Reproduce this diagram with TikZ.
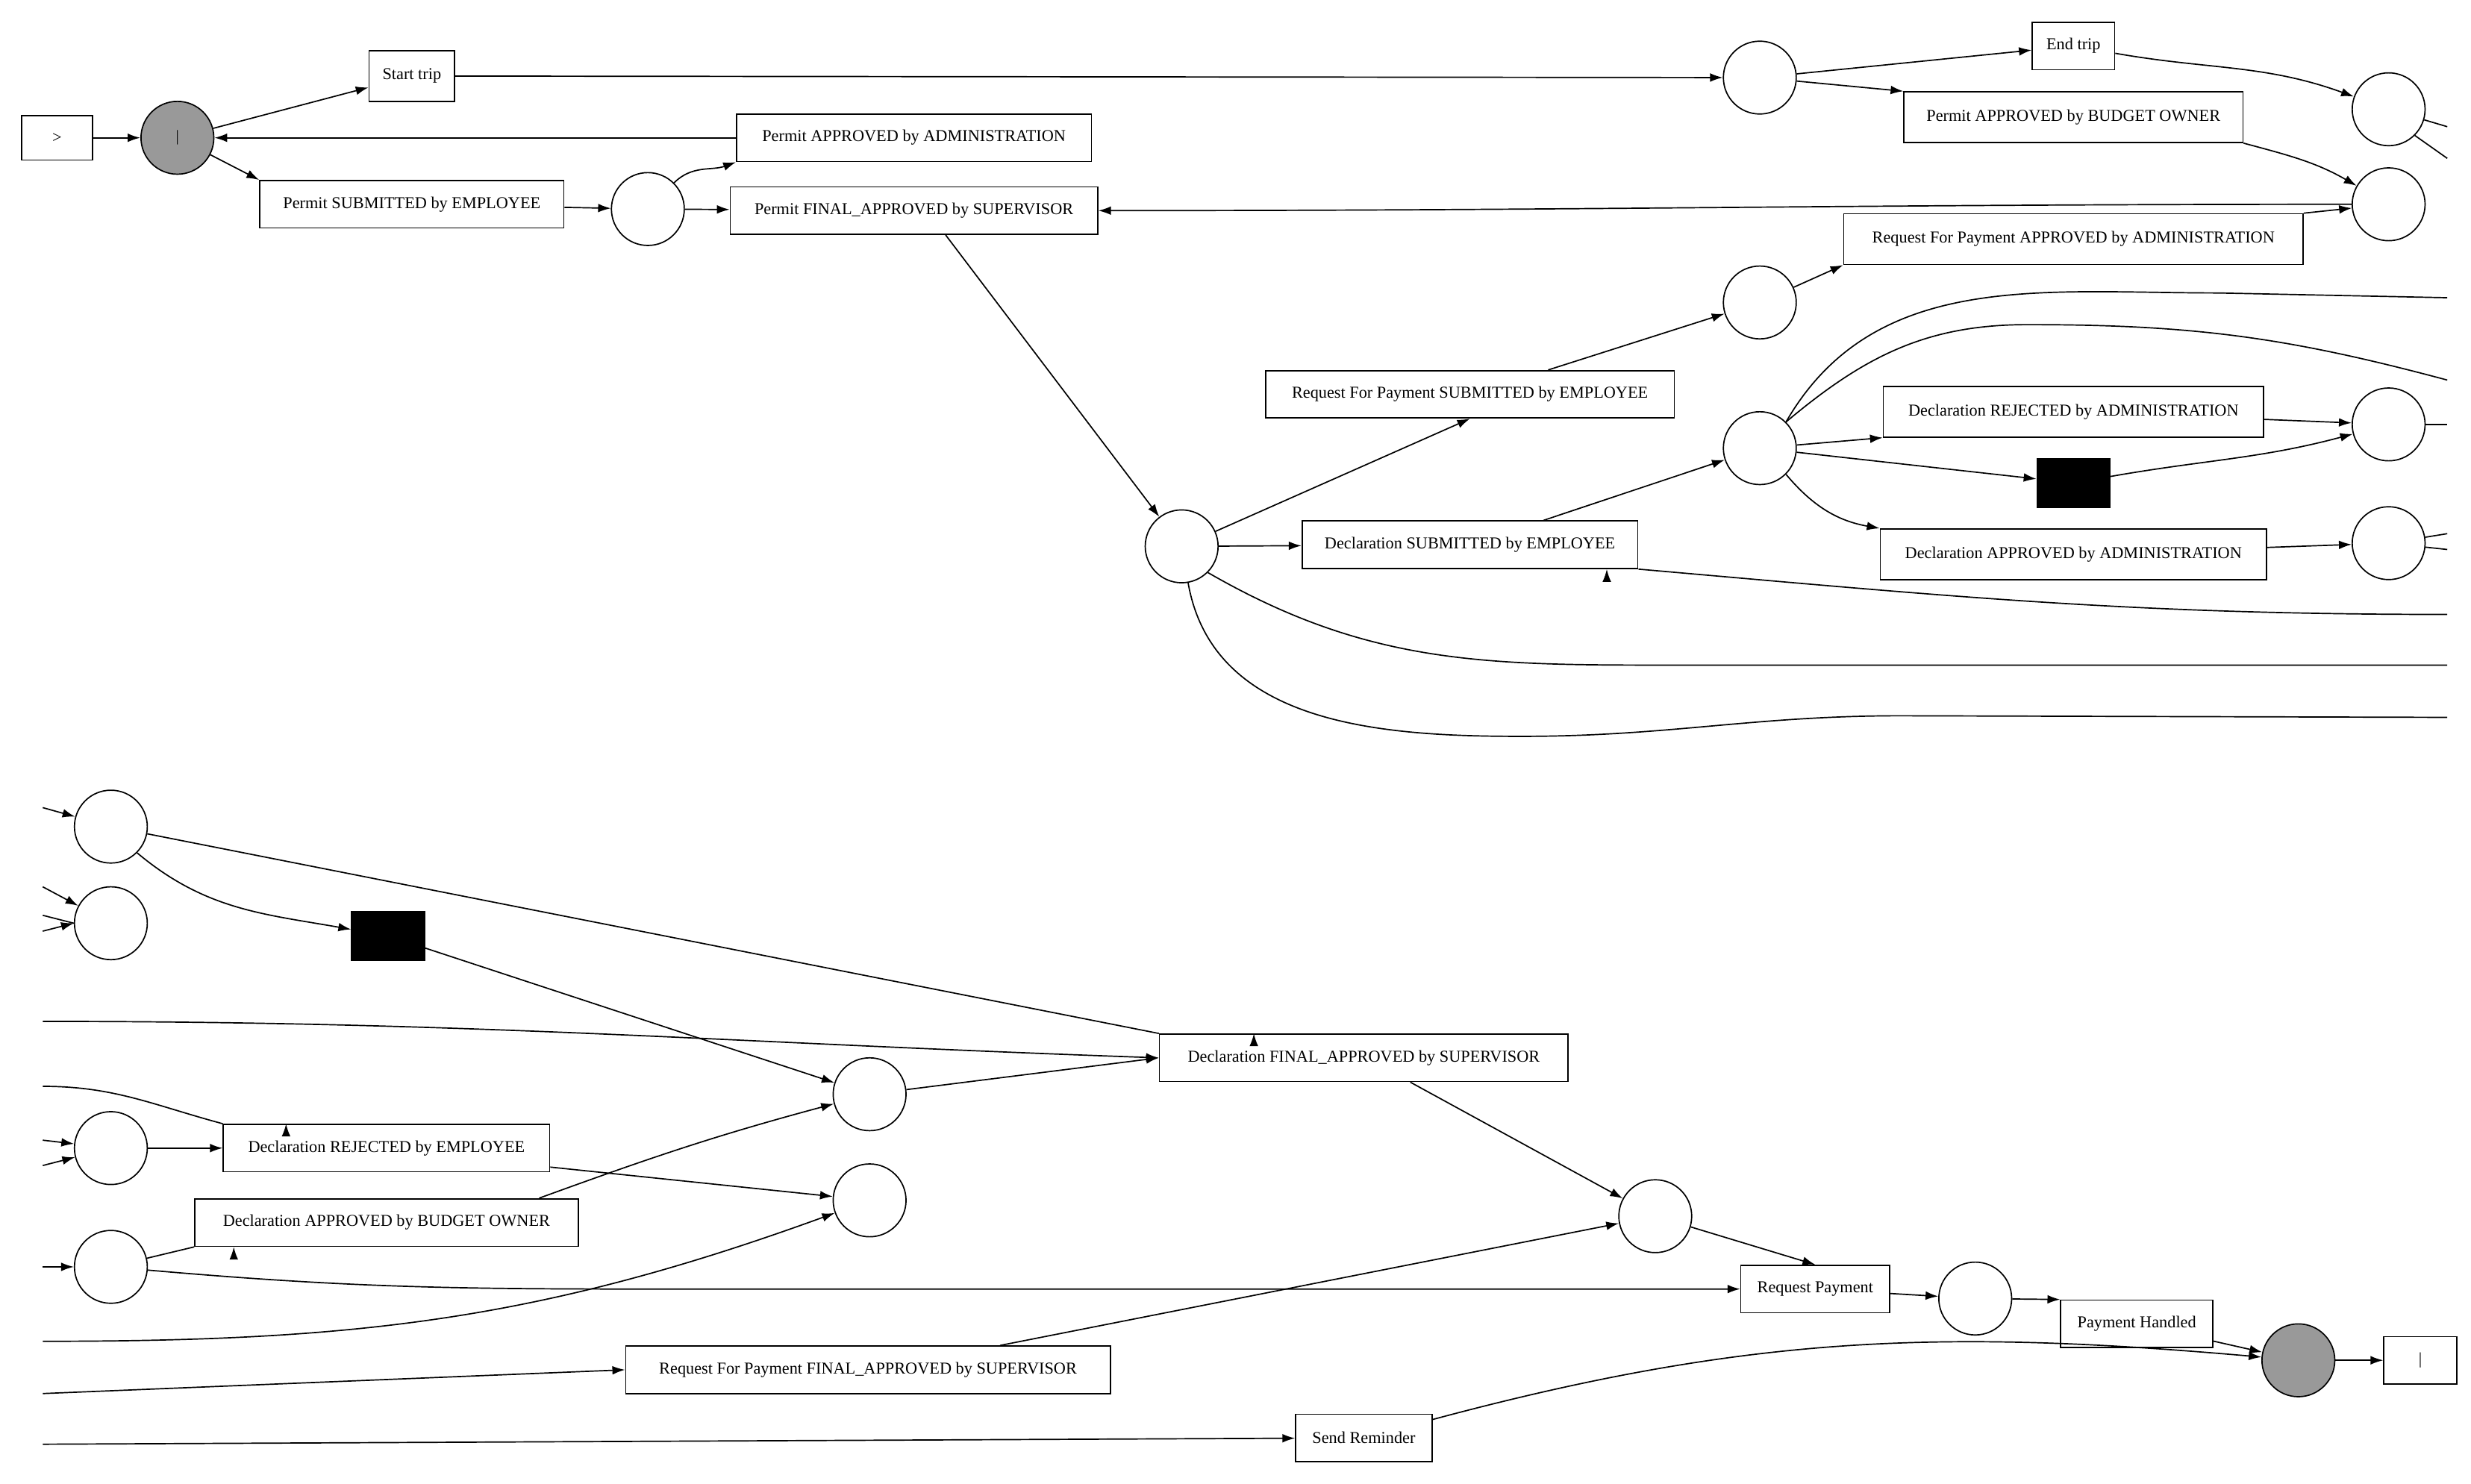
\documentclass[tikz,border=0pt]{standalone}
\usepackage{fontspec}
\setmainfont{Liberation Serif}
\usetikzlibrary{arrows.meta}
\begin{document}
\begin{tikzpicture}[x=1pt,y=-1pt,
  every path/.style={line width=0.8pt},
  tr/.style={draw,rectangle,inner sep=2pt,minimum height=30pt,font=\fontsize{10.5}{12}\selectfont},
  pl/.style={draw,circle,minimum size=46pt,inner sep=0pt},
  gp/.style={pl,fill=black!40},
  tau/.style={draw,fill=black,minimum width=46pt,minimum height=31pt,inner sep=0pt},
  a/.style={-{Latex[length=8pt,width=5.5pt]}}]
\useasboundingbox (0,0) rectangle (1560,937);
% top part
\node[tr,minimum width=45pt,minimum height=28pt] (src) at (36,87) {>};
\node[gp] (p0) at (112,87) {|};
\node[tr,minimum width=54pt,minimum height=32pt] (st) at (260,48) {Start trip};
\node[tr,minimum width=224pt] (paa) at (577,87) {Permit APPROVED by ADMINISTRATION};
\node[tr,minimum width=192pt] (pse) at (260,129) {Permit SUBMITTED by EMPLOYEE};
\node[pl] (p1) at (409,132) {};
\node[tr,minimum width=232pt] (pfa) at (577,133) {Permit FINAL\_APPROVED by SUPERVISOR};
\node[pl] (p2) at (1111,49) {};
\node[tr,minimum width=52pt] (et) at (1309,29) {End trip};
\node[tr,minimum width=214pt,minimum height=32pt] (pabo) at (1309,74) {Permit APPROVED by BUDGET OWNER};
\node[pl] (p3) at (1508,69) {};
\node[pl] (p4) at (1508,129) {};
\node[tr,minimum width=290pt,minimum height=32pt] (rpaa) at (1309,151) {Request For Payment APPROVED by ADMINISTRATION};
\node[pl] (p5) at (1111,191) {};
\node[tr,minimum width=258pt] (rpse) at (928,249) {Request For Payment SUBMITTED by EMPLOYEE};
\node[pl] (p6) at (1111,283) {};
\node[tr,minimum width=240pt,minimum height=32pt] (dra) at (1309,260) {Declaration REJECTED by ADMINISTRATION};
\node[tau] (t1) at (1309,305) {};
\node[tr,minimum width=244pt,minimum height=32pt] (daa) at (1309,350) {Declaration APPROVED by ADMINISTRATION};
\node[pl] (p7) at (1508,268) {};
\node[pl] (p8) at (1508,343) {};
\node[pl] (p9) at (746,345) {};
\node[tr,minimum width=212pt] (dse) at (928,344) {Declaration SUBMITTED by EMPLOYEE};
% right free ends
\coordinate (r1) at (1545,80);
\coordinate (r2) at (1545,100);
\coordinate (r3) at (1545,268);
\coordinate (r4) at (1545,337);
\coordinate (r5) at (1545,347);
\coordinate (r6) at (1545,188);
\coordinate (r7) at (1545,240);
\coordinate (r8) at (1545,388);
\coordinate (r9) at (1545,420);
\coordinate (r10) at (1545,453);
% bottom part
\node[pl] (q1) at (70,522) {};
\node[pl] (q2) at (70,583) {};
\node[tau] (t2) at (245,591) {};
\node[tr,minimum width=258pt] (dfa) at (861,668) {Declaration FINAL\_APPROVED by SUPERVISOR};
\node[pl] (q3) at (549,691) {};
\node[pl] (q4) at (70,725) {};
\node[tr,minimum width=206pt] (dre) at (244,725) {Declaration REJECTED by EMPLOYEE};
\node[pl] (q5) at (549,758) {};
\node[tr,minimum width=242pt] (dabo) at (244,772) {Declaration APPROVED by BUDGET OWNER};
\node[pl] (q6) at (70,800) {};
\node[tr,minimum width=306pt] (rpfa) at (548,865) {Request For Payment FINAL\_APPROVED by SUPERVISOR};
\node[pl] (q7) at (1045,768) {};
\node[tr,minimum width=94pt] (rp) at (1146,814) {Request Payment};
\node[pl] (q8) at (1247,820) {};
\node[tr,minimum width=96pt] (ph) at (1349,836) {Payment Handled};
\node[gp] (snk) at (1451,859) {};
\node[tr,minimum width=46pt] (end) at (1528,859) {|};
\node[tr,minimum width=86pt] (sr) at (861,908) {Send Reminder};
% left free ends
\coordinate (l1) at (27,510);
\coordinate (l2) at (27,560);
\coordinate (l3) at (27,578);
\coordinate (l4) at (27,588);
\coordinate (l5) at (27,645);
\coordinate (l6) at (27,686);
\coordinate (l7) at (27,720);
\coordinate (l8) at (27,736);
\coordinate (l9) at (27,800);
\coordinate (l10) at (27,847);
\coordinate (l11) at (27,880);
\coordinate (l12) at (27,912);
% top edges
\draw[a] (src) -- (p0);
\draw[a] (p0) -- (st);
\draw[a] (paa) -- (p0);
\draw[a] (p0) -- (pse.north west);
\draw[a] (pse) -- (p1);
\draw[a] (p1.north east) to[out=45,in=200] (paa.south west);
\draw[a] (p1) -- (pfa);
\draw[a] (st) -- (p2);
\draw[a] (p2) -- (et);
\draw[a] (p2) -- (pabo.north west);
\draw[a] (et) to[out=-10,in=160] (p3);
\draw[a] (pabo.south east) to[out=-15,in=150] (p4);
\draw[a] (rpaa.north east) -- (p4);
\draw[a] (p4) to[out=180,in=0] (pfa.east);
\draw[a] (pfa.south) ++(20,0) -- (p9);
\draw[a] (p9) -- (rpse.south);
\draw[a] (rpse.north east) ++(-80,0) -- (p5);
\draw[a] (p5) -- (rpaa.south west);
\draw[a] (p9) -- (dse);
\draw[a] (dse.north east) ++(-60,0) -- (p6);
\draw[a] (p6) -- (dra.south west);
\draw[a] (p6) -- (t1);
\draw[a] (p6.south east) to[out=-50,in=170] (daa.north west);
\draw[a] (dra) -- (p7);
\draw[a] (t1) to[out=10,in=195] (p7);
\draw[a] (daa) -- (p8);
\draw (p3) -- (r1);
\draw (p3.south east) -- (r2);
\draw (p7) -- (r3);
\draw (p8) -- (r4);
\draw (p8) -- (r5);
\draw (p6.north east) to[out=60,in=180] (1400,185) -- (r6);
\draw (p6.north east) to[out=40,in=180] (1280,205) to[out=0,in=165] (r7);
\draw[a] (r8) to[out=180,in=-5] (dse.south east) ++(-20,0);
\draw (p9.south east) to[out=-30,in=180] (1050,420) -- (r9);
\draw (p9) to[out=-80,in=180] (960,465) to[out=0,in=180] (1200,452) -- (r10);
% bottom edges
\draw[a] (l1) -- (q1);
\draw[a] (l2) -- (q2);
\draw (l3) -- (q2.west);
\draw[a] (l4) -- (q2.west);
\draw[a] (q1.south east) to[out=-40,in=170] (t2);
\draw[a] (q1) -- (dfa.north west) ++(60,0);
\draw[a] (t2) -- (q3);
\draw[a] (q3) -- (dfa.west);
\draw[a] (l5) to[out=0,in=178] (dfa.west);
\draw[a] (l6) to[out=0,in=165] (dre.north west) ++(40,0);
\draw[a] (l7) -- (q4);
\draw[a] (l8) -- (q4);
\draw[a] (q4) -- (dre);
\draw[a] (dre.east) ++(0,12) -- (q5);
\draw[a] (dabo.north east) ++(-25,0) to[out=20,in=195] (q3);
\draw[a] (l9) -- (q6);
\draw[a] (q6) -- (dabo.south west) ++(25,0);
\draw[a] (q6) to[out=-5,in=180] (400,814) -- (rp.west);
\draw[a] (l10) to[out=0,in=200] (q5);
\draw[a] (l11) -- (rpfa.west);
\draw[a] (rpfa.north east) ++(-70,0) -- (q7);
\draw[a] (dfa.south east) ++(-100,0) -- (q7);
\draw[a] (q7) -- (rp.north);
\draw[a] (rp) -- (q8);
\draw[a] (q8) -- (ph.north west);
\draw[a] (ph) -- (snk);
\draw[a] (sr) to[out=15,in=175] (snk);
\draw[a] (snk) -- (end);
\draw[a] (l12) -- (sr);
\end{tikzpicture}
\end{document}
